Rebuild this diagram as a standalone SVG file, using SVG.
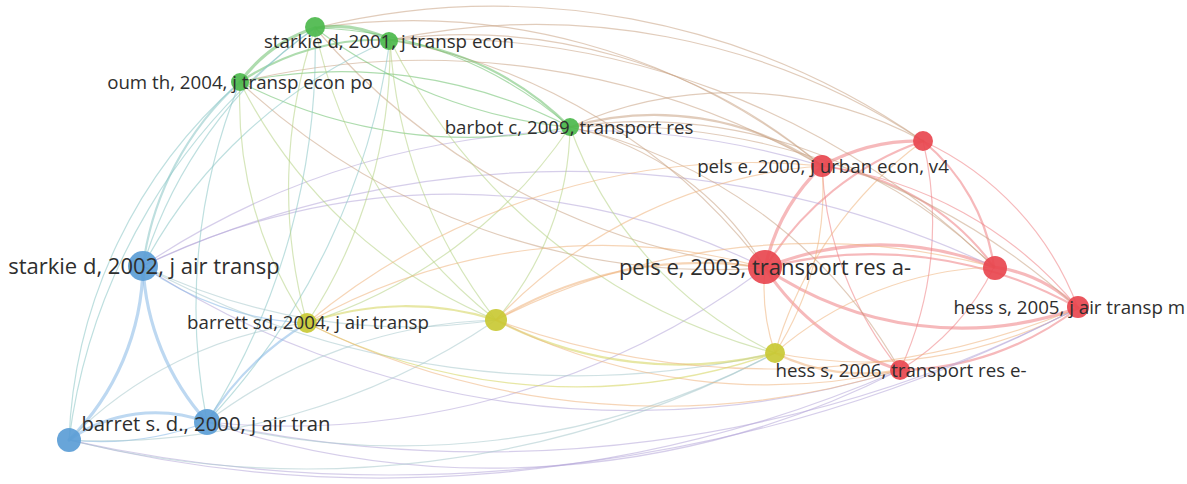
<svg xmlns="http://www.w3.org/2000/svg" width="1187" height="484" viewBox="0 0 1187 484">
<style>
.e{fill:none;stroke-linecap:round;stroke-opacity:.55}
.w1{stroke-width:1.2}.w2{stroke-width:2.2}.w3{stroke-width:3.2}
.gg{stroke:#6cc06c}.rr{stroke:#ee7f84}.bb{stroke:#86b8e6}.yy{stroke:#d4d45a}
.gr{stroke:#c9a384}.br{stroke:#b4a6d8}.gb{stroke:#88c4c4}.gy{stroke:#b4d284}.by{stroke:#a8c8cc}.ry{stroke:#eeb27c}
.ng{fill:#4cb84c}.nr{fill:#e8474f}.nb{fill:#5b9dd6}.ny{fill:#c9c934}
circle{fill-opacity:.92}
text{font-family:"Open Sans","Noto Sans","Liberation Sans",sans-serif;fill:#2e2e2e;text-anchor:middle}
.s{font-size:18.7px}.m{font-size:20.3px}.l{font-size:22px}
</style>
<rect width="1187" height="484" fill="#ffffff"/>
<g id="connectors">
<path class="e rr w3" d="M765 268 A200 200 0 0 1 822 166"/>
<path class="e rr w3" d="M765 268 A300 300 0 0 1 994 267"/>
<path class="e rr w3" d="M1078 308 A350 350 0 0 1 765 268"/>
<path class="e rr w2" d="M765 268 A420 420 0 0 1 1078 308"/>
<path class="e rr w3" d="M822 166 A200 200 0 0 1 923 141"/>
<path class="e rr w2" d="M822 166 A250 250 0 0 1 994 267"/>
<path class="e rr w2" d="M923 141 A200 200 0 0 1 994 267"/>
<path class="e rr w1" d="M923 141 A300 300 0 0 1 1078 308"/>
<path class="e rr w3" d="M994 267 A150 150 0 0 1 1078 308"/>
<path class="e rr w1" d="M822 166 A400 400 0 0 1 1078 308"/>
<path class="e rr w3" d="M765 268 A250 250 0 0 0 900 370"/>
<path class="e rr w1" d="M994 267 A250 250 0 0 1 900 370"/>
<path class="e rr w2" d="M1078 308 A300 300 0 0 1 900 370"/>
<path class="e rr w1" d="M923 141 A350 350 0 0 1 900 370"/>
<path class="e rr w1" d="M822 166 A350 350 0 0 0 900 370"/>
<path class="e rr w2" d="M765 268 A300 300 0 0 1 923 141"/>
<path class="e ry w1" d="M775 353 A200 200 0 0 1 765 268"/>
<path class="e ry w2" d="M775 353 A200 200 0 0 0 900 370"/>
<path class="e ry w1" d="M775 353 A350 350 0 0 1 994 267"/>
<path class="e ry w1" d="M775 353 A450 450 0 0 0 1078 308"/>
<path class="e ry w1" d="M775 353 A300 300 0 0 0 822 166"/>
<path class="e ry w1" d="M775 353 A400 400 0 0 1 923 141"/>
<path class="e br w1" d="M143 266 A700 700 0 0 1 765 268"/>
<path class="e br w1" d="M143 266 A800 800 0 0 1 822 166"/>
<path class="e br w1" d="M207 422 A900 900 0 0 0 900 370"/>
<path class="e br w1" d="M69 440 A1300 1300 0 0 0 900 370"/>
<path class="e br w1" d="M207 422 A800 800 0 0 0 765 268"/>
<path class="e br w1" d="M69 440 A1500 1500 0 0 0 1078 308"/>
<path class="e br w1" d="M207 422 A1300 1300 0 0 0 1078 308"/>
<path class="e br w1" d="M143 266 A900 900 0 0 0 900 370"/>
<path class="e br w1" d="M143 266 A1000 1000 0 0 1 994 267"/>
<path class="e by w1" d="M69 440 A1000 1000 0 0 0 775 353"/>
<path class="e gr w1" d="M315 28 A650 650 0 0 1 822 166"/>
<path class="e gr w1" d="M390 40 A550 550 0 0 1 822 166"/>
<path class="e gr w1" d="M315 28 A750 750 0 0 1 923 141"/>
<path class="e gr w1" d="M390 40 A700 700 0 0 1 923 141"/>
<path class="e gr w1" d="M240 82 A800 800 0 0 1 822 166"/>
<path class="e gr w2" d="M570 127 A300 300 0 0 1 822 166"/>
<path class="e gr w1" d="M570 127 A400 400 0 0 1 923 141"/>
<path class="e gr w1" d="M570 127 A300 300 0 0 1 765 268"/>
<path class="e gr w1" d="M570 127 A500 500 0 0 1 994 267"/>
<path class="e gr w1" d="M570 127 A500 500 0 0 1 900 370"/>
<path class="e gr w1" d="M390 40 A600 600 0 0 1 765 268"/>
<path class="e gr w1" d="M315 28 A700 700 0 0 0 765 268"/>
<path class="e gr w1" d="M240 82 A700 700 0 0 0 765 268"/>
<path class="e gr w1" d="M390 40 A800 800 0 0 1 994 267"/>
<path class="e gr w1" d="M570 127 A700 700 0 0 1 1078 308"/>
<path class="e gg w3" d="M315 28 A120 120 0 0 1 390 40"/>
<path class="e gg w3" d="M240 82 A150 150 0 0 1 315 28"/>
<path class="e gg w2" d="M240 82 A250 250 0 0 1 390 40"/>
<path class="e gg w1" d="M315 28 A400 400 0 0 1 570 127"/>
<path class="e gg w2" d="M390 40 A300 300 0 0 1 570 127"/>
<path class="e gg w1" d="M240 82 A500 500 0 0 1 570 127"/>
<path class="e gg w1" d="M240 82 A500 500 0 0 0 570 127"/>
<path class="e gg w1" d="M315 28 A500 500 0 0 0 570 127"/>
<path class="e gb w2" d="M143 266 A300 300 0 0 1 240 82"/>
<path class="e gb w1" d="M143 266 A450 450 0 0 1 315 28"/>
<path class="e gb w1" d="M143 266 A500 500 0 0 1 390 40"/>
<path class="e gb w1" d="M207 422 A600 600 0 0 1 240 82"/>
<path class="e gb w1" d="M69 440 A500 500 0 0 1 240 82"/>
<path class="e gb w1" d="M207 422 A700 700 0 0 0 315 28"/>
<path class="e gb w1" d="M207 422 A700 700 0 0 0 390 40"/>
<path class="e gb w1" d="M69 440 A600 600 0 0 1 315 28"/>
<path class="e gy w1" d="M315 28 A500 500 0 0 0 496 320"/>
<path class="e gy w1" d="M390 40 A500 500 0 0 0 496 320"/>
<path class="e gy w1" d="M570 127 A300 300 0 0 1 496 320"/>
<path class="e gy w1" d="M240 82 A400 400 0 0 0 307 323"/>
<path class="e gy w1" d="M240 82 A500 500 0 0 0 496 320"/>
<path class="e gy w1" d="M390 40 A500 500 0 0 1 307 323"/>
<path class="e gy w1" d="M570 127 A500 500 0 0 1 307 323"/>
<path class="e gy w1" d="M570 127 A400 400 0 0 0 775 353"/>
<path class="e gy w1" d="M315 28 A500 500 0 0 0 307 323"/>
<path class="e gy w1" d="M390 40 A600 600 0 0 0 775 353"/>
<path class="e bb w3" d="M143 266 A250 250 0 0 0 207 422"/>
<path class="e bb w3" d="M69 440 A250 250 0 0 0 143 266"/>
<path class="e bb w3" d="M69 440 A150 150 0 0 1 207 422"/>
<path class="e bb w1" d="M69 440 A300 300 0 0 0 207 422"/>
<path class="e bb w2" d="M207 422 A300 300 0 0 1 307 323"/>
<path class="e bb w1" d="M143 266 A300 300 0 0 0 307 323"/>
<path class="e by w1" d="M143 266 A600 600 0 0 0 496 320"/>
<path class="e by w1" d="M207 422 A500 500 0 0 1 496 320"/>
<path class="e by w1" d="M69 440 A400 400 0 0 1 307 323"/>
<path class="e by w1" d="M69 440 A700 700 0 0 0 496 320"/>
<path class="e by w1" d="M207 422 A800 800 0 0 0 775 353"/>
<path class="e by w1" d="M143 266 A900 900 0 0 0 775 353"/>
<path class="e yy w2" d="M307 323 A300 300 0 0 1 496 320"/>
<path class="e yy w2" d="M496 320 A400 400 0 0 0 775 353"/>
<path class="e ry w2" d="M496 320 A400 400 0 0 1 765 268"/>
<path class="e ry w1" d="M307 323 A600 600 0 0 1 765 268"/>
<path class="e ry w1" d="M496 320 A600 600 0 0 0 900 370"/>
<path class="e ry w1" d="M496 320 A700 700 0 0 1 994 267"/>
<path class="e ry w1" d="M496 320 A800 800 0 0 0 1078 308"/>
<path class="e ry w1" d="M496 320 A500 500 0 0 1 822 166"/>
<path class="e yy w1" d="M307 323 A600 600 0 0 0 775 353"/>
<path class="e ry w1" d="M307 323 A800 800 0 0 0 900 370"/>
<path class="e ry w1" d="M307 323 A700 700 0 0 1 822 166"/>
</g>
<g id="node-g1"><circle class="ng" cx="315" cy="27" r="10"/></g>
<g id="node-starkie2001"><circle class="ng" cx="389" cy="41" r="9"/><text class="s" x="389" y="48">starkie d, 2001, j transp econ</text></g>
<g id="node-oum"><circle class="ng" cx="240" cy="82" r="9"/><text class="s" x="240" y="88.5">oum th, 2004, j transp econ po</text></g>
<g id="node-barbot"><circle class="ng" cx="570" cy="127" r="9"/><text class="s" x="569" y="133.5">barbot c, 2009, transport res</text></g>
<g id="node-pels2000"><circle class="nr" cx="822" cy="166" r="11"/><text class="s" x="823" y="172.5">pels e, 2000, j urban econ, v4</text></g>
<g id="node-r2"><circle class="nr" cx="923" cy="141" r="10"/></g>
<g id="node-starkie2002"><circle class="nb" cx="143" cy="266" r="15"/><text class="l" x="144" y="274">starkie d, 2002, j air transp</text></g>
<g id="node-pels2003"><circle class="nr" cx="765" cy="267" r="17"/><text class="l" x="765" y="275">pels e, 2003, transport res a-</text></g>
<g id="node-r4"><circle class="nr" cx="995" cy="268" r="12"/></g>
<g id="node-hess2005"><circle class="nr" cx="1078" cy="307" r="11"/><text class="s" x="1185" y="313.5" style="text-anchor:end">hess s, 2005, j air transp m</text></g>
<g id="node-barrett2004"><circle class="ny" cx="307" cy="323" r="10"/><text class="s" x="308" y="329">barrett sd, 2004, j air transp</text></g>
<g id="node-y2"><circle class="ny" cx="496" cy="320" r="11"/></g>
<g id="node-y3"><circle class="ny" cx="775" cy="353" r="10"/></g>
<g id="node-hess2006"><circle class="nr" cx="900" cy="370" r="10"/><text class="s" x="901" y="377">hess s, 2006, transport res e-</text></g>
<g id="node-barret2000"><circle class="nb" cx="207" cy="422" r="13"/><text class="m" x="206" y="431">barret s. d., 2000, j air tran</text></g>
<g id="node-b3"><circle class="nb" cx="69" cy="440" r="12"/></g>
</svg>
